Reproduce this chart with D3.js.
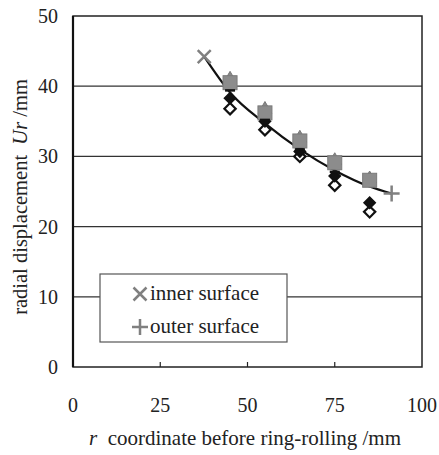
<!DOCTYPE html>
<html>
<head>
<meta charset="utf-8">
<script src="https://cdn.jsdelivr.net/npm/d3@7"></script>
<style>
  body { margin: 0; background: #fff; }
  text { font-family: "Liberation Serif", "DejaVu Serif", serif; fill: #222; }
</style>
</head>
<body>
<svg width="439" height="455"></svg>
<script>
// data
let rPos = [45, 55, 65, 75, 85];
let triVals = [41.0, 36.7, 32.6, 29.4, 26.8];
let sqVals = [40.5, 36.2, 32.2, 29.1, 26.6];
let dashVals = [39.4, 35.2, 31.0, 27.8, null];
let filledVals = [38.3, 35.0, 30.7, 27.2, 23.4];
let openVals = [36.8, 33.8, 30.0, 25.9, 22.1];

let lineR = [37.6, 45, 55, 65, 75, 85, 91.3];
let lineU = [44.2, 39.1, 34.7, 31.0, 28.0, 25.7, 24.7];

let innerPt = [37.6, 44.2];
let outerPt = [91.3, 24.7];

let xTicks = [0, 25, 50, 75, 100];
let yTicks = [0, 10, 20, 30, 40, 50];

let svg = d3.select("svg");

let x = d3.scaleLinear().domain([0, 100]).range([73, 422]);
let y = d3.scaleLinear().domain([0, 50]).range([367, 16]);

// gridlines
svg.append("g")
  .selectAll("line")
  .data(yTicks.slice(1, -1))
  .join("line")
  .attr("x1", x(0)).attr("x2", x(100))
  .attr("y1", d => y(d)).attr("y2", d => y(d))
  .style("stroke", "#333").style("stroke-width", 1.2);

// bottom ticks (inside)
svg.append("g")
  .selectAll("line")
  .data(xTicks.slice(1, -1))
  .join("line")
  .attr("x1", d => x(d)).attr("x2", d => x(d))
  .attr("y1", y(0)).attr("y2", y(0) - 5)
  .style("stroke", "#222").style("stroke-width", 1.2);

// frame
svg.append("rect")
  .attr("x", x(0)).attr("y", y(50))
  .attr("width", x(100) - x(0)).attr("height", y(0) - y(50))
  .style("fill", "none").style("stroke", "#222").style("stroke-width", 1.5);
svg.append("line")
  .attr("x1", x(0)).attr("x2", x(0)).attr("y1", y(50)).attr("y2", y(0))
  .style("stroke", "#111").style("stroke-width", 2.2);

// tick labels
svg.append("g")
  .selectAll("text")
  .data(yTicks)
  .join("text")
  .attr("x", 58).attr("y", d => y(d)).attr("dy", "0.35em")
  .attr("text-anchor", "end")
  .style("font-size", "20px")
  .text(d => d);

svg.append("g")
  .selectAll("text")
  .data(xTicks)
  .join("text")
  .attr("x", d => x(d)).attr("y", 412)
  .attr("text-anchor", "middle")
  .style("font-size", "20px")
  .text(d => d);

// axis titles
let xt = svg.append("text")
  .attr("x", 245).attr("y", 445)
  .attr("text-anchor", "middle")
  .style("font-size", "21px");
xt.append("tspan").style("font-style", "italic").text("r");
xt.append("tspan").text("\u2002coordinate before ring-rolling /mm");

let yt = svg.append("text")
  .attr("transform", "translate(27,197) rotate(-90)")
  .attr("text-anchor", "middle")
  .style("font-size", "20.5px");
yt.append("tspan").text("radial displacement\u2002");
yt.append("tspan").style("font-style", "italic").text("Ur");
yt.append("tspan").text(" /mm");

// fitted curve
let line = d3.line()
  .x((d, i) => x(lineR[i]))
  .y(d => y(d))
  .curve(d3.curveMonotoneX);

svg.append("path")
  .attr("d", line(lineU))
  .style("fill", "none").style("stroke", "#111").style("stroke-width", 2.2);

// markers
let diamond = d3.symbol().type(d3.symbolSquare).size(64);

svg.append("g")
  .selectAll("path")
  .data(openVals)
  .join("path")
  .attr("d", diamond)
  .attr("transform", (d, i) => "translate(" + x(rPos[i]) + "," + y(d) + ") rotate(45)")
  .style("fill", "#fff").style("stroke", "#111").style("stroke-width", 2.2);

svg.append("g")
  .selectAll("path")
  .data(filledVals)
  .join("path")
  .attr("d", diamond)
  .attr("transform", (d, i) => "translate(" + x(rPos[i]) + "," + y(d) + ") rotate(45)")
  .style("fill", "#111").style("stroke", "#111").style("stroke-width", 1.5);

svg.append("g")
  .selectAll("path")
  .data(triVals)
  .join("path")
  .attr("d", d3.symbol().type(d3.symbolTriangle).size(80))
  .attr("transform", (d, i) => "translate(" + x(rPos[i]) + "," + y(d) + ")")
  .style("fill", "#8a8a8a").style("stroke", "#777").style("stroke-width", 1);

svg.append("g")
  .selectAll("rect")
  .data(sqVals)
  .join("rect")
  .attr("x", (d, i) => x(rPos[i]) - 7)
  .attr("y", d => y(d) - 7)
  .attr("width", 14).attr("height", 14)
  .style("fill", "#8c8c8c").style("stroke", "#7a7a7a").style("stroke-width", 1);

svg.append("g")
  .selectAll("line")
  .data(rPos.map((r, i) => [r, dashVals[i]]).filter(d => d[1] != null))
  .join("line")
  .attr("x1", d => x(d[0]) - 5).attr("x2", d => x(d[0]) + 5)
  .attr("y1", d => y(d[1])).attr("y2", d => y(d[1]))
  .style("stroke", "#111").style("stroke-width", 2.5);

// inner / outer surface points
function drawCross(g, cx, cy, s) {
  g.append("path")
    .attr("d", "M" + (cx - s) + "," + (cy - s) + "L" + (cx + s) + "," + (cy + s) +
               "M" + (cx - s) + "," + (cy + s) + "L" + (cx + s) + "," + (cy - s))
    .style("stroke", "#808080").style("stroke-width", 2.5).style("fill", "none");
}
function drawPlus(g, cx, cy, s) {
  g.append("path")
    .attr("d", "M" + (cx - s) + "," + cy + "L" + (cx + s) + "," + cy +
               "M" + cx + "," + (cy - s) + "L" + cx + "," + (cy + s))
    .style("stroke", "#808080").style("stroke-width", 2.5).style("fill", "none");
}
drawCross(svg, x(innerPt[0]), y(innerPt[1]), 6.5);
drawPlus(svg, x(outerPt[0]), y(outerPt[1]), 8);

// legend
let legend = svg.append("g");
legend.append("rect")
  .attr("x", 100).attr("y", 274).attr("width", 187).attr("height", 68)
  .style("fill", "#fff").style("stroke", "#555").style("stroke-width", 1.2);
drawCross(legend, 140, 294, 6.5);
drawPlus(legend, 140, 327, 8);
legend.append("text").attr("x", 150).attr("y", 300).style("font-size", "21px").text("inner surface");
legend.append("text").attr("x", 150).attr("y", 333).style("font-size", "21px").text("outer surface");
</script>
</body>
</html>
